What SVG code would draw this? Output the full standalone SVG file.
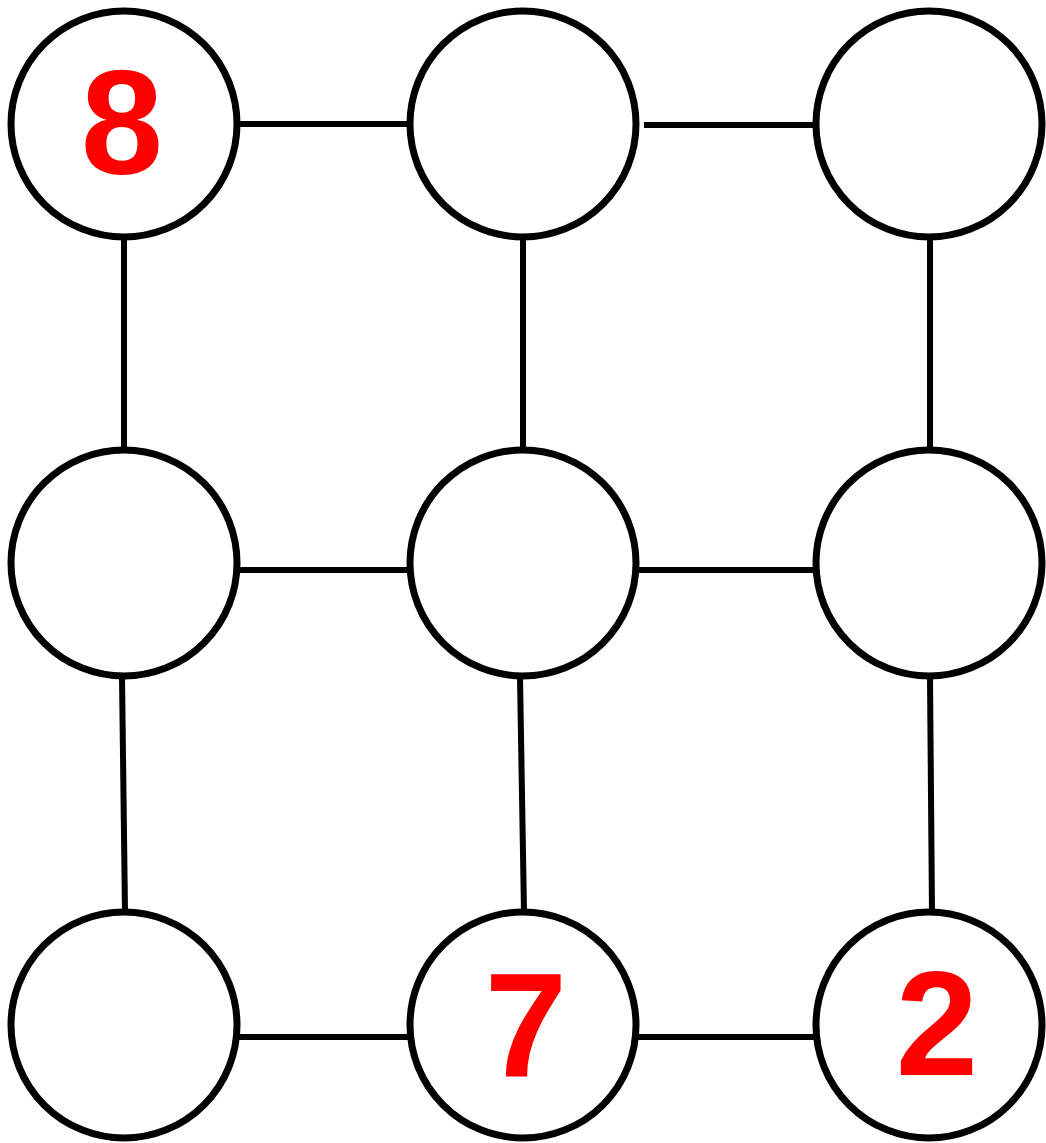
<svg xmlns="http://www.w3.org/2000/svg" width="1046" height="1143" viewBox="0 0 1046 1143">
<style>
.n{fill:#fff;stroke:#000;stroke-width:7}
.e{stroke:#000;stroke-width:6;fill:none}
.d{fill:#f00;font-family:"Liberation Sans",Arial,sans-serif;font-weight:bold;font-size:148px;text-anchor:middle}
</style>
<rect width="1046" height="1143" fill="#fff"/>
<g id="edges">
<line class="e" x1="238" y1="124" x2="410" y2="124"/>
<line class="e" x1="644" y1="125" x2="815" y2="125"/>
<line class="e" x1="124" y1="238" x2="124" y2="450"/>
<line class="e" x1="523" y1="238" x2="523" y2="450"/>
<line class="e" x1="930" y1="238" x2="930" y2="450"/>
<line class="e" x1="238" y1="570" x2="410" y2="570"/>
<line class="e" x1="637" y1="570" x2="815" y2="570"/>
<line class="e" x1="122" y1="677" x2="125" y2="912"/>
<line class="e" x1="520" y1="677" x2="524" y2="912"/>
<line class="e" x1="930" y1="677" x2="932" y2="912"/>
<line class="e" x1="238" y1="1037" x2="410" y2="1037"/>
<line class="e" x1="637" y1="1037" x2="815" y2="1037"/>
</g>
<g id="n1"><circle class="n" cx="124" cy="124" r="113"/><text class="d" x="122" y="174">8</text></g>
<g id="n2"><circle class="n" cx="523" cy="124" r="113"/></g>
<g id="n3"><circle class="n" cx="929" cy="124" r="113"/></g>
<g id="n4"><circle class="n" cx="124" cy="563" r="113"/></g>
<g id="n5"><circle class="n" cx="523" cy="563" r="113"/></g>
<g id="n6"><circle class="n" cx="929" cy="563" r="113"/></g>
<g id="n7"><circle class="n" cx="124" cy="1025" r="113"/></g>
<g id="n8"><circle class="n" cx="523" cy="1025" r="113"/><text class="d" x="526" y="1077">7</text></g>
<g id="n9"><circle class="n" cx="929" cy="1025" r="113"/><text class="d" x="937" y="1075">2</text></g>
</svg>
